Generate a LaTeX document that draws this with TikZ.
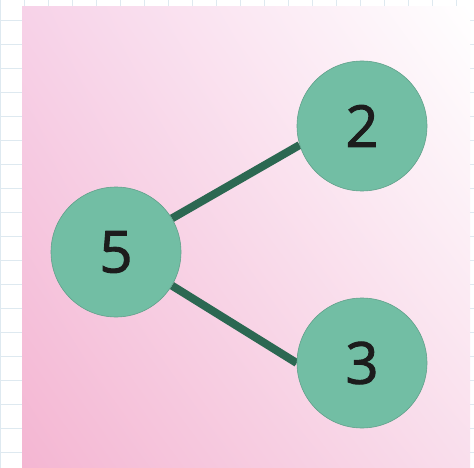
\documentclass[tikz,border=0pt]{standalone}
\usepackage{fontspec}
\setmainfont{Open Sans}
\newfontfamily\digitfont[FakeBold=1.6]{Open Sans}
\usepackage{tikz}
\usetikzlibrary{positioning,shadings}
\definecolor{gridblue}{RGB}{222,233,240}
\definecolor{pinkdeep}{RGB}{244,182,210}
\definecolor{pinksoft}{RGB}{247,210,232}
\definecolor{pinkpale}{RGB}{249,222,236}
\definecolor{nodeteal}{RGB}{114,190,164}
\definecolor{edgegreen}{RGB}{44,104,82}
\definecolor{digitink}{RGB}{28,28,28}
\pgfdeclarelayer{paper}
\pgfdeclarelayer{links}
\pgfsetlayers{paper,links,main}

\begin{document}
\begin{tikzpicture}[
    x=1pt, y=-1pt,
    num/.style={
      circle, fill=nodeteal, draw=nodeteal!85!black, line width=0.6pt,
      minimum size=130pt, inner sep=0pt,
      font=\digitfont\fontsize{58}{58}\selectfont, text=digitink
    },
    edge/.style={line width=8pt, edgegreen},
  ]
  \useasboundingbox (0,0) rectangle (474,468);
  %% --- graph paper and pink card ---
  \begin{pgfonlayer}{paper}
    \fill[white] (0,0) rectangle (474,468);
    \draw[gridblue, line width=0.7pt, step=24pt, shift={(0,-4)}] (0,0) grid (474,472);
    \shade[upper left=pinksoft, upper right=white, lower left=pinkdeep, lower right=pinkpale]
      (22,7) rectangle (470,468);
  \end{pgfonlayer}

  %% --- nodes ---
  \node[num] (five)  at (116,252) {5};
  \node[num] (two)   at (362,126) {2};
  \node[num] (three) at (362,363) {3};

  %% --- edges ---
  \begin{pgfonlayer}{links}
    \draw[edge] (five.31)  -- (two.197);
    \draw[edge] (five.-31) -- (three.180);
  \end{pgfonlayer}
\end{tikzpicture}
\end{document}
